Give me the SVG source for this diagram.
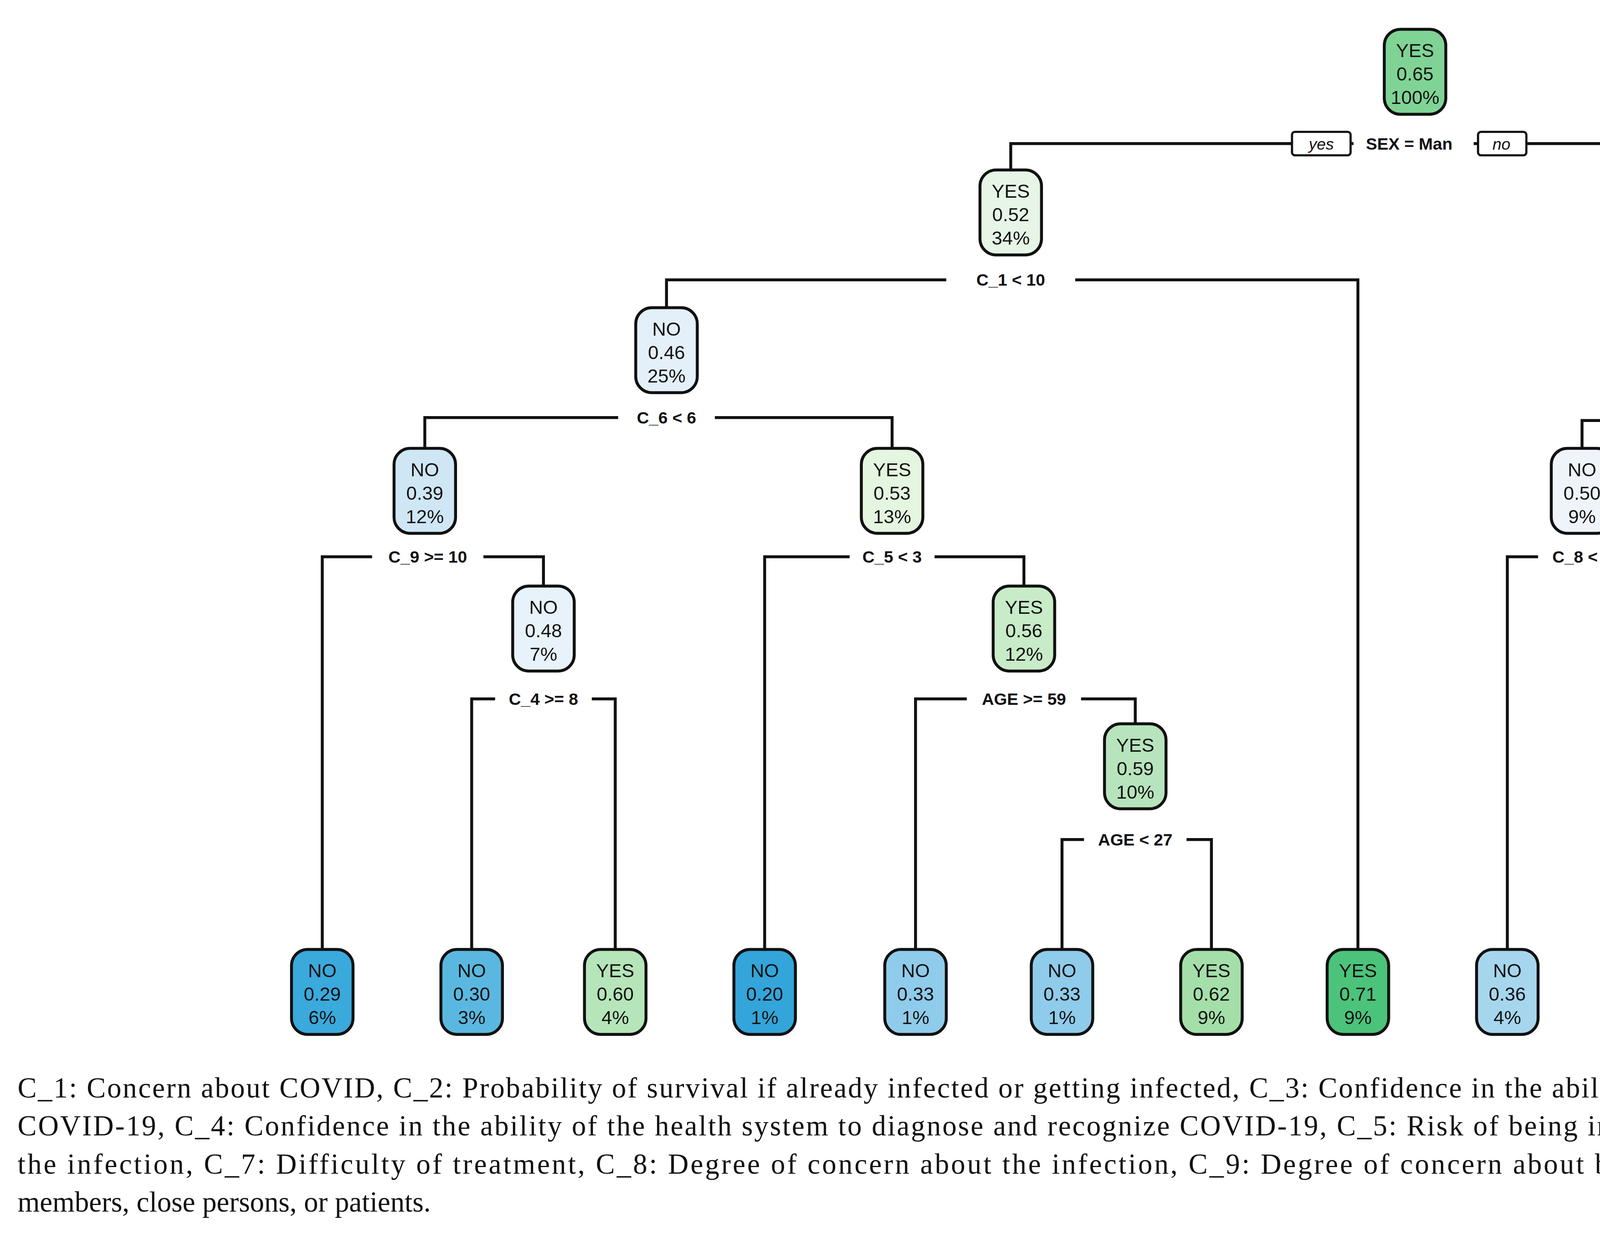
<svg xmlns="http://www.w3.org/2000/svg" width="5850" height="3166" viewBox="0 0 5850 3166">
<style>
.n rect{stroke:#111;stroke-width:2}
.n text{font-family:"Liberation Sans",Arial,sans-serif;font-size:13px;text-anchor:middle;fill:#111}
.c path{fill:none;stroke:#111;stroke-width:2}
.l{font-family:"Liberation Sans",Arial,sans-serif;font-size:11.5px;font-weight:bold;text-anchor:middle;fill:#111}
.yn{font-family:"Liberation Sans",Arial,sans-serif;font-size:11px;font-style:italic;text-anchor:middle;fill:#111}
.cap{font-family:"Liberation Serif","Times New Roman",serif;font-size:19.5px;fill:#111}
</style>
<defs>
<rect id="box" x="-21" y="0" width="42" height="58" rx="11"/>
</defs>
<rect width="5850" height="3166" fill="#fff"/>
<g transform="scale(3.75)">
<g class="c">
<path d="M690 116V98H1244V116"/>
<path d="M455 210V191H927V648"/>
<path d="M1157 210V191H1333V648"/>
<path d="M290 306V285H609V306"/>
<path d="M1080 306V287H1230V648"/>
<path d="M220 648V380H371V400"/>
<path d="M522 648V380H699V400"/>
<path d="M1029 648V380H1130V648"/>
<path d="M322 648V477H420V648"/>
<path d="M625 648V477H775V494"/>
<path d="M725 648V573H827V648"/>
</g>
<g id="labels">
<rect x="882" y="90" width="40" height="16" fill="#fff" stroke="#111" stroke-width="1.5" rx="2"/>
<text class="yn" x="902" y="102">yes</text>
<rect x="924" y="90" width="82" height="16" fill="#fff"/>
<text class="l" x="962" y="102">SEX = Man</text>
<rect x="1009" y="90" width="33" height="16" fill="#fff" stroke="#111" stroke-width="1.5" rx="2"/>
<text class="yn" x="1025" y="102">no</text>
<rect x="646" y="184" width="88" height="15" fill="#fff"/><text class="l" x="690" y="195">C_1 &lt; 10</text>
<rect x="1214" y="184" width="60" height="15" fill="#fff"/><text class="l" x="1244" y="195">C_1 &lt; 9</text>
<rect x="422" y="278" width="66" height="15" fill="#fff"/><text class="l" x="455" y="289">C_6 &lt; 6</text>
<rect x="1117" y="280" width="80" height="15" fill="#fff"/><text class="l" x="1157" y="291">AGE &gt;= 47</text>
<rect x="254" y="373" width="76" height="15" fill="#fff"/><text class="l" x="292" y="384">C_9 &gt;= 10</text>
<rect x="580" y="373" width="58" height="15" fill="#fff"/><text class="l" x="609" y="384">C_5 &lt; 3</text>
<rect x="1050" y="373" width="60" height="15" fill="#fff"/><text class="l" x="1080" y="384">C_8 &lt; 7</text>
<rect x="338" y="470" width="66" height="15" fill="#fff"/><text class="l" x="371" y="481">C_4 &gt;= 8</text>
<rect x="660" y="470" width="78" height="15" fill="#fff"/><text class="l" x="699" y="481">AGE &gt;= 59</text>
<rect x="740" y="566" width="70" height="15" fill="#fff"/><text class="l" x="775" y="577">AGE &lt; 27</text>
</g>
<g id="n1" class="n" transform="translate(966,20)"><use href="#box" fill="#7fd495" stroke="#111" stroke-width="2"/><text y="19">YES</text><text y="35">0.65</text><text y="51">100%</text></g>
<g id="n2" class="n" transform="translate(690,116)"><use href="#box" fill="#e6f5e6" stroke="#111" stroke-width="2"/><text y="19">YES</text><text y="35">0.52</text><text y="51">34%</text></g>
<g id="n3" class="n" transform="translate(1244,116)"><use href="#box" fill="#44c176" stroke="#111" stroke-width="2"/><text y="19">YES</text><text y="35">0.72</text><text y="51">66%</text></g>
<g id="n4" class="n" transform="translate(455,210)"><use href="#box" fill="#e3eff9" stroke="#111" stroke-width="2"/><text y="19">NO</text><text y="35">0.46</text><text y="51">25%</text></g>
<g id="n5" class="n" transform="translate(1157,210)"><use href="#box" fill="#8ed79a" stroke="#111" stroke-width="2"/><text y="19">YES</text><text y="35">0.64</text><text y="51">33%</text></g>
<g id="n6" class="n" transform="translate(290,306)"><use href="#box" fill="#cfe6f5" stroke="#111" stroke-width="2"/><text y="19">NO</text><text y="35">0.39</text><text y="51">12%</text></g>
<g id="n7" class="n" transform="translate(609,306)"><use href="#box" fill="#e4f5e0" stroke="#111" stroke-width="2"/><text y="19">YES</text><text y="35">0.53</text><text y="51">13%</text></g>
<g id="n8" class="n" transform="translate(1080,306)"><use href="#box" fill="#eef4fa" stroke="#111" stroke-width="2"/><text y="19">NO</text><text y="35">0.50</text><text y="51">9%</text></g>
<g id="n9" class="n" transform="translate(371,400)"><use href="#box" fill="#e8f2fa" stroke="#111" stroke-width="2"/><text y="19">NO</text><text y="35">0.48</text><text y="51">7%</text></g>
<g id="n10" class="n" transform="translate(699,400)"><use href="#box" fill="#c8ebc8" stroke="#111" stroke-width="2"/><text y="19">YES</text><text y="35">0.56</text><text y="51">12%</text></g>
<g id="n11" class="n" transform="translate(775,494)"><use href="#box" fill="#b7e4bc" stroke="#111" stroke-width="2"/><text y="19">YES</text><text y="35">0.59</text><text y="51">10%</text></g>
<g id="l1" class="n" transform="translate(220,648)"><use href="#box" fill="#3aa9dc" stroke="#111" stroke-width="2"/><text y="19">NO</text><text y="35">0.29</text><text y="51">6%</text></g>
<g id="l2" class="n" transform="translate(322,648)"><use href="#box" fill="#5ab8e0" stroke="#111" stroke-width="2"/><text y="19">NO</text><text y="35">0.30</text><text y="51">3%</text></g>
<g id="l3" class="n" transform="translate(420,648)"><use href="#box" fill="#b5e5b8" stroke="#111" stroke-width="2"/><text y="19">YES</text><text y="35">0.60</text><text y="51">4%</text></g>
<g id="l4" class="n" transform="translate(522,648)"><use href="#box" fill="#33a5da" stroke="#111" stroke-width="2"/><text y="19">NO</text><text y="35">0.20</text><text y="51">1%</text></g>
<g id="l5" class="n" transform="translate(625,648)"><use href="#box" fill="#8fcbea" stroke="#111" stroke-width="2"/><text y="19">NO</text><text y="35">0.33</text><text y="51">1%</text></g>
<g id="l6" class="n" transform="translate(725,648)"><use href="#box" fill="#8fcbea" stroke="#111" stroke-width="2"/><text y="19">NO</text><text y="35">0.33</text><text y="51">1%</text></g>
<g id="l7" class="n" transform="translate(827,648)"><use href="#box" fill="#a4dfa9" stroke="#111" stroke-width="2"/><text y="19">YES</text><text y="35">0.62</text><text y="51">9%</text></g>
<g id="l8" class="n" transform="translate(927,648)"><use href="#box" fill="#4cc37a" stroke="#111" stroke-width="2"/><text y="19">YES</text><text y="35">0.71</text><text y="51">9%</text></g>
<g id="l9" class="n" transform="translate(1029,648)"><use href="#box" fill="#a6d6ee" stroke="#111" stroke-width="2"/><text y="19">NO</text><text y="35">0.36</text><text y="51">4%</text></g>
<g id="l10" class="n" transform="translate(1130,648)"><use href="#box" fill="#a4dfa9" stroke="#111" stroke-width="2"/><text y="19">YES</text><text y="35">0.62</text><text y="51">5%</text></g>
<g id="l11" class="n" transform="translate(1230,648)"><use href="#box" fill="#5cc982" stroke="#111" stroke-width="2"/><text y="19">YES</text><text y="35">0.69</text><text y="51">25%</text></g>
<g id="l12" class="n" transform="translate(1333,648)"><use href="#box" fill="#2fb56a" stroke="#111" stroke-width="2"/><text y="19">YES</text><text y="35">0.79</text><text y="51">33%</text></g>
<g id="caption">
<text class="cap" x="12" y="749" textLength="1536" lengthAdjust="spacing">C_1: Concern about COVID, C_2: Probability of survival if already infected or getting infected, C_3: Confidence in the ability of health professionals to diagnose and recognize</text>
<text class="cap" x="12" y="775" textLength="1536" lengthAdjust="spacing">COVID-19, C_4: Confidence in the ability of the health system to diagnose and recognize COVID-19, C_5: Risk of being infected by COVID-19, C_6: Health consequences of</text>
<text class="cap" x="12" y="801" textLength="1536" lengthAdjust="spacing">the infection, C_7: Difficulty of treatment, C_8: Degree of concern about the infection, C_9: Degree of concern about being a carrier and transmitting the virus to family</text>
<text class="cap" x="12" y="827">members, close persons, or patients.</text>
</g>
</g>
</svg>
